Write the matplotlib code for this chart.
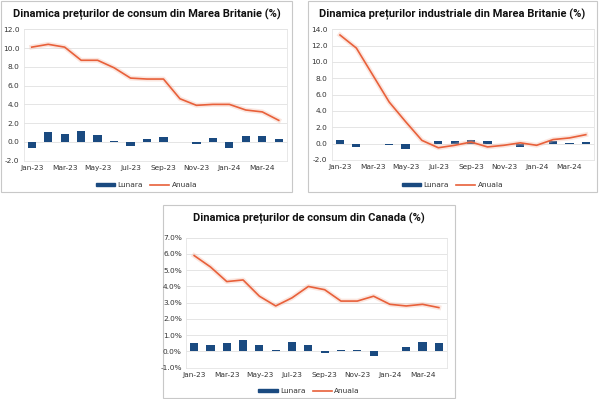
#!/usr/bin/env python3
"""Dinamica preturilor - UK CPI, UK PPI, Canada CPI."""

import matplotlib
matplotlib.use("Agg")
import matplotlib.pyplot as plt
from matplotlib import font_manager
from matplotlib.patches import Rectangle
from matplotlib.lines import Line2D
from matplotlib.ticker import FuncFormatter

MONTHS = ['Jan-23', 'Feb-23', 'Mar-23', 'Apr-23', 'May-23', 'Jun-23', 'Jul-23', 'Aug-23',
          'Sep-23', 'Oct-23', 'Nov-23', 'Dec-23', 'Jan-24', 'Feb-24', 'Mar-24', 'Apr-24']

UK_CPI_LUNARA = [-0.6, 1.1, 0.8, 1.2, 0.7, 0.1, -0.4, 0.3, 0.5, 0.0, -0.2, 0.4, -0.6, 0.6, 0.6, 0.3]
UK_CPI_ANUALA = [10.1, 10.4, 10.1, 8.7, 8.7, 7.9, 6.8, 6.7, 6.7, 4.6, 3.9, 4.0, 4.0, 3.4, 3.2, 2.3]

UK_PPI_LUNARA = [0.5, -0.4, 0.0, -0.2, -0.6, 0.0, 0.3, 0.3, 0.4, 0.3, 0.0, -0.4, 0.0, 0.3, 0.1, 0.2]
UK_PPI_ANUALA = [13.3, 11.7, 8.4, 5.1, 2.7, 0.4, -0.5, -0.2, 0.2, -0.4, -0.2, 0.1, -0.2, 0.5, 0.7, 1.1]

CA_CPI_LUNARA = [0.5, 0.4, 0.5, 0.7, 0.4, 0.1, 0.6, 0.4, -0.1, 0.1, 0.1, -0.3, 0.0, 0.3, 0.6, 0.5]
CA_CPI_ANUALA = [5.9, 5.2, 4.3, 4.4, 3.4, 2.8, 3.3, 4.0, 3.8, 3.1, 3.1, 3.4, 2.9, 2.8, 2.9, 2.7]

W, H = 600, 399
BAR_COLOR = '#1a4a80'
LINE_COLOR = '#e8603a'

# pick a narrow bold face if one is around
_names = {f.name for f in font_manager.fontManager.ttflist}
print(sorted(n for n in _names if 'Narrow' in n or 'Condensed' in n or 'Cond' in n))
if 'Liberation Sans Narrow' in _names:
    TITLE_FONT = ['Liberation Sans Narrow', 'DejaVu Sans']
else:
    TITLE_FONT = ['Roboto', 'DejaVu Sans']

fig = plt.figure(figsize=(W / 100, H / 100), dpi=100)


def px_rect(x0, y0, x1, y1):
    """pixel box (top-left origin) -> figure fraction [l, b, w, h]"""
    return [x0 / W, 1 - y1 / H, (x1 - x0) / W, (y1 - y0) / H]


def draw_panel(box, plot, title, lunara, anuala, ylim, yticks, fmt):
    l, b, w, h = px_rect(*box)
    fig.patches.append(Rectangle((l, b), w, h, transform=fig.transFigure, zorder=-5,
                                 facecolor='none', edgecolor='#c8c8c8', linewidth=0.8))
    ax = fig.add_axes(px_rect(*plot))
    x = list(range(len(MONTHS)))
    ax.bar(x, lunara, width=0.5, color=BAR_COLOR, zorder=3)
    # soft halo under the line
    ax.plot(x, anuala, color='#f4b8a4', linewidth=3.5, alpha=0.35, zorder=4,
            solid_joinstyle='round')
    ax.plot(x, anuala, color=LINE_COLOR, linewidth=1.2, zorder=5)
    ax.set_xlim(-0.5, len(MONTHS) - 0.5)
    ax.set_ylim(*ylim)
    ax.set_yticks(yticks)
    ax.yaxis.set_major_formatter(FuncFormatter(fmt))
    ax.set_xticks(x[::2])
    ax.set_xticklabels(MONTHS[::2])
    ax.grid(axis='y', color='#e0e0e0', linewidth=0.6, zorder=0)
    ax.tick_params(length=0, labelsize=5.3, colors='#333333', pad=3)
    for s in ax.spines.values():
        s.set_color('#e4e4e4')
        s.set_linewidth(0.6)
    bx0, by0, bx1, by1 = box
    fig.text((bx0 + bx1) / 2 / W, 1 - (by0 + 13) / H, title, ha='center', va='center',
             fontsize=8.0, fontweight='bold', family=TITLE_FONT, color='#111111')
    handles = [Rectangle((0, 0), 1, 1, color=BAR_COLOR),
               Line2D([0], [0], color=LINE_COLOR, linewidth=1.2)]
    fig.legend(handles, ['Lunara', 'Anuala'], loc='center',
               bbox_to_anchor=((bx0 + bx1) / 2 / W, 1 - (by1 - 7) / H),
               ncol=2, frameon=False, fontsize=5.3, handlelength=2.6, handleheight=0.35,
               columnspacing=1.0, handletextpad=0.3, labelcolor='#333333')
    return ax


def fmt_num(v, pos):
    return f'{v:.1f}'


def fmt_pct(v, pos):
    return f'{v:.1f}%'


def main():
    draw_panel((1, 1, 292, 192), (23.5, 29.3, 287, 160.7),
               'Dinamica prețurilor de consum din Marea Britanie (%)',
               UK_CPI_LUNARA, UK_CPI_ANUALA, (-2, 12), range(-2, 13, 2), fmt_num)
    draw_panel((308, 1, 597, 192), (331.8, 29.3, 594, 160),
               'Dinamica prețurilor industriale din Marea Britanie (%)',
               UK_PPI_LUNARA, UK_PPI_ANUALA, (-2, 14), range(-2, 15, 2), fmt_num)
    draw_panel((163, 205, 455, 398), (186, 237.7, 447, 367.7),
               'Dinamica prețurilor de consum din Canada (%)',
               CA_CPI_LUNARA, CA_CPI_ANUALA, (-1, 7), range(-1, 8), fmt_pct)
    fig.savefig('out.png', dpi=100)


if __name__ == "__main__":
    main()
